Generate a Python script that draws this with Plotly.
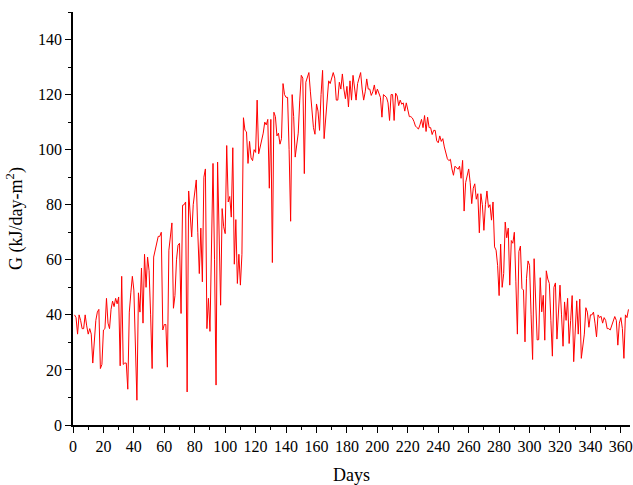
import plotly.graph_objects as go

days = list(range(1, 366))
radiation = [
    40, 39, 33, 40, 38, 35, 35, 40, 36, 33,
    35, 33, 22.5, 30, 38, 41, 42, 20.5, 22, 34.5,
    35, 46, 37, 35, 42, 45, 43, 46, 44, 46.5,
    21.5, 54, 22, 22.5, 22.5, 13, 41, 48, 54, 49,
    30, 9, 48, 41, 57, 37, 62, 50, 61, 56,
    40, 20.5, 61, 64, 67, 68.5, 68.5, 70, 34.5, 36.5,
    36.5, 21, 63.5, 68.5, 73.4, 42.4, 47, 60, 65.3, 66,
    40.5, 79.8, 80, 81, 12, 85, 78, 68.3, 80, 85,
    89, 70, 55, 71.5, 52, 90, 93, 35, 46, 34,
    60, 95, 60, 14.5, 95.5, 70, 43.5, 78.6, 72, 69.5,
    101.5, 81, 83, 75.5, 100.7, 58.4, 74.6, 51.4, 62, 50.8,
    62, 111.6, 107, 106.5, 95, 103, 97, 96, 100, 99,
    118, 98.5, 101, 103, 106, 110, 109, 111, 86, 111,
    59, 113.6, 112, 105, 106, 102, 104, 124, 120, 119,
    119, 100, 74, 120, 112, 97.3, 102, 106, 118, 127,
    126, 91.3, 124.5, 126, 128, 121, 113, 108, 105.6, 116.6,
    114, 107, 120, 128.8, 104, 112, 119, 125, 124, 126,
    128, 126, 118, 118, 124.5, 122, 127.5, 122, 118.5, 123,
    115.5, 125, 118, 127, 122, 118, 124, 126, 128, 122,
    118, 121, 125.7, 122, 122, 119.7, 121, 123.5, 120, 122,
    120, 119, 111.8, 120, 119.5, 119, 117, 110.6, 120, 120,
    110.6, 120.5, 119.5, 116, 118, 116.5, 117, 114, 117, 115,
    112, 112, 111.5, 110.3, 108.6, 108, 107.5, 109, 111, 108,
    112.4, 106.6, 111.8, 108, 108, 105.5, 107, 107, 103.2, 102.5,
    105, 103, 104, 101, 98.5, 96.7, 96, 96.5, 93, 90.7,
    94, 93.5, 92.9, 94, 89.6, 96.1, 77.7, 88, 91, 93,
    88, 80.4, 86, 87.6, 82, 84, 69.8, 84, 80, 70.7,
    80, 85, 79, 80, 74.4, 81, 64.7, 63.5, 58, 47,
    65.7, 50, 55, 73.7, 68, 71.5, 50.8, 67, 66, 70,
    52, 33, 63, 65, 49.6, 49, 30.2, 53.3, 59.6, 58,
    40, 23.8, 60.4, 45, 30.9, 31, 53.5, 41.1, 47.1, 30.8,
    56, 53, 51.4, 38, 25, 50, 51.6, 31.2, 40, 50.8,
    40, 28.6, 44.7, 38, 46, 29.6, 38, 47, 23, 35,
    45.1, 33, 45.7, 24.2, 28, 33, 42.6, 41, 35.5, 40,
    40, 41, 37, 32, 40, 39, 39.5, 37, 39, 38,
    35, 35, 34.5, 36, 38, 39.4, 38, 29, 37, 39,
    35, 24.2, 40, 39, 42,
]

x_ticks = list(range(0, 361, 20))
y_ticks = list(range(0, 141, 20))

fig = go.Figure()
fig.add_trace(go.Scatter(
    x=days, y=radiation, mode="lines",
    line=dict(color="#ff0000", width=1),
    showlegend=False,
))

font_family = "Liberation Serif, Times New Roman, serif"

fig.update_layout(
    width=633, height=485,
    margin=dict(l=73, r=3, t=12, b=60),
    paper_bgcolor="white", plot_bgcolor="white",
    font=dict(family=font_family, size=16, color="black"),
)
fig.update_xaxes(
    range=[0, 366], tickvals=x_ticks,
    ticks="outside", ticklen=6, tickwidth=1.3, tickcolor="black",
    minor=dict(ticks="outside", ticklen=3, tickwidth=1.3, tickcolor="black", dtick=10, showgrid=False),
    showline=True, linecolor="black", linewidth=1.5,
    showgrid=False, zeroline=False,
    tickfont=dict(size=16, family=font_family),
    title=dict(text="Days", font=dict(size=18, family=font_family), standoff=18),
    automargin=False,
)
fig.update_yaxes(
    range=[0, 150], tickvals=y_ticks,
    ticks="outside", ticklen=6, tickwidth=1.3, tickcolor="black",
    minor=dict(ticks="outside", ticklen=3, tickwidth=1.3, tickcolor="black", dtick=10, showgrid=False),
    showline=True, linecolor="black", linewidth=1.5,
    showgrid=False, zeroline=False,
    tickfont=dict(size=16, family=font_family),
    title=dict(text="G (kJ/day-m<sup>2</sup>)", font=dict(size=18, family=font_family), standoff=11),
    automargin=False,
)

fig.write_html(
    "out.html",
    config={"displayModeBar": False},
    post_script="document.body.style.margin='0';document.body.style.overflow='hidden';",
)
